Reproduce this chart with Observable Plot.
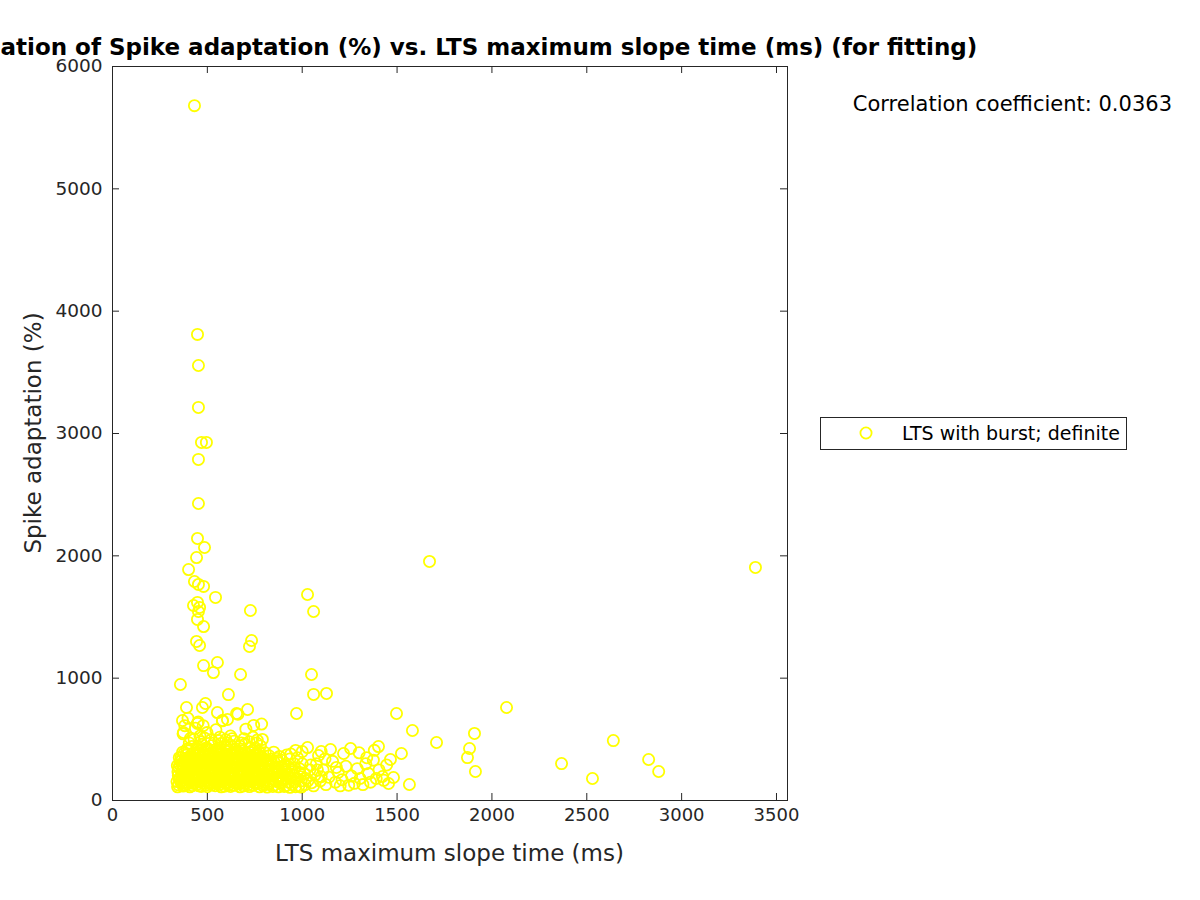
<!DOCTYPE html>
<html><head><meta charset="utf-8">
<script src="https://cdn.jsdelivr.net/npm/d3@7"></script>
<script src="https://cdn.jsdelivr.net/npm/@observablehq/plot@0.6"></script>
<style>body{margin:0;background:#fff} #chart svg{font-family:"DejaVu Sans",sans-serif}</style>
</head><body><div id="chart"></div>
<script>
const titleText = "Correlation of Spike adaptation (%) vs. LTS maximum slope time (ms) (for fitting)";
const xLabel = "LTS maximum slope time (ms)";
const yLabel = "Spike adaptation (%)";
const corrText = "Correlation coefficient: 0.0363";
const seriesName = "LTS with burst; definite";
const xTicks = [0, 500, 1000, 1500, 2000, 2500, 3000, 3500];
const yTicks = [0, 1000, 2000, 3000, 4000, 5000, 6000];

// [LTS maximum slope time (ms), Spike adaptation (%)]
const outlierPoints = [
[432,5680],[448,3810],[453,3556],[453,3213],[469,2927],[495,2927],[453,2788],[453,2428],[448,2142],[485,2068],
[443,1986],[401,1888],[432,1790],[453,1766],[480,1750],[427,1594],[448,1619],[459,1578],[453,1545],[543,1660],
[448,1480],[480,1422],[443,1300],[459,1267],[727,1553],[733,1308],[722,1259],[480,1103],[553,1128],[532,1046],
[675,1030],[358,948],[611,866],[490,793],[474,760],[553,719],[712,744],[1028,1684],[1060,1545],[1049,1030],
[1060,867],[1128,875],[1671,1954],[3389,1905],[970,711],[1497,711],[1581,572],[1708,474],[1908,548],[2077,760],
[2640,490],[1882,425],[1871,351],[1913,237],[2367,302],[2530,180],[2826,335],[2879,237]
];
const fringePoints = [
[372,545],[381,612],[398,672],[411,508],[437,590],[452,641],[461,527],[478,612],[498,555],[521,498],
[545,578],[566,518],[579,651],[597,497],[622,527],[641,485],[661,706],[693,505],[744,614],[763,493],
[786,625],[790,499],[740,517],[703,583],[580,654],[606,662],[654,711],[448,630],[390,760],[369,654],
[374,556],[1028,433],[965,409],[1086,368],[1149,417],[1218,384],[1255,425],[1402,441],[1380,410],[1465,335],
[1523,384],[1565,131],[1455,139],[1481,188],[1423,196],
[405,470],[430,500],[465,480],[485,510],[535,470],[560,490],[605,470],[630,505],[680,470],[720,480],[760,470]
];
const clusterPoints = [
[348,128],[372,118],[395,135],[421,122],[447,131],[468,115],[493,127],[517,139],[541,121],[566,133],[590,117],[614,129],[641,124],[667,136],[690,119],[716,130],[742,125],[768,138],[793,121],[820,133],[851,126],[884,140],[915,122],[948,131],[982,118],
[352,176],[379,188],[401,169],[427,183],[452,174],[476,191],[502,168],[528,185],[553,177],[577,192],[603,171],[629,186],[654,179],[679,166],[705,189],[731,174],[757,183],[782,170],[808,187],[838,176],[869,192],[902,168],[936,185],[971,179],
[345,236],[368,248],[391,229],[416,244],[441,233],[463,251],[489,238],[512,226],[537,247],[561,235],[586,252],[611,231],[636,244],[660,229],[686,249],[711,236],[737,242],[762,227],[788,251],[815,238],[846,224],[878,246],[911,233],[944,251],[988,229],
[355,294],[381,308],[406,289],[432,303],[457,297],[481,312],[506,286],[531,301],[556,295],[581,309],[606,291],[631,305],[656,298],[682,287],[707,311],[733,296],[758,305],[784,290],[812,302],[842,293],[874,309],[905,288],[957,301],
[362,352],[388,371],[413,358],[437,376],[462,349],[486,365],[511,380],[536,356],[560,372],[585,348],[610,368],[635,383],[659,355],[684,374],[709,349],[734,367],[760,382],[786,351],[825,366],[866,344],[918,372],
[392,418],[418,441],[446,425],[471,459],[497,431],[522,447],[547,418],[572,466],[597,437],[622,452],[648,421],[673,444],[699,462],[725,428],[752,419],[780,446],
[360,150],[386,205],[410,262],[434,145],[459,210],[484,268],[508,152],[533,212],[558,265],[583,155],[608,208],[633,270],[658,148],[683,215],[708,263],[733,158],[758,206],[783,272],[800,152],[830,210],[860,262],[893,155],[925,212],[960,265],[995,160],
[364,325],[392,335],[425,330],[455,402],[490,398],[520,340],[550,405],[575,330],[600,400],[628,335],[655,398],[690,335],[720,395],[748,338],[772,400],[800,340],[850,395],[890,330],[935,340],[1000,300],[1020,180],[1040,250],[1015,130],
[850,320],[880,360],[910,290],[940,380],[975,350],[1000,400],
[340,155],[363,162],[387,148],[412,158],[438,164],[461,151],[486,159],[510,146],[535,163],[559,152],[584,166],[607,149],[632,160],[657,171],[681,144],[706,157],[730,165],[755,150],[779,161],[806,169],[832,147],[862,158],[895,172],[928,150],
[347,205],[370,212],[396,198],[419,217],[444,203],[469,219],[493,196],[518,209],[542,221],[567,201],[592,214],[617,199],[641,218],[666,204],[692,211],[717,198],[743,220],[768,207],[794,215],[824,198],[855,214],[887,203],[920,219],[953,207],
[350,268],[374,279],[399,262],[423,275],[448,283],[473,266],[497,278],[522,263],[546,281],[571,270],[596,262],[621,284],[645,267],[670,279],[695,270],[720,283],[745,264],[770,280],[797,268],[828,281],[859,272],[890,265],[925,279],
[358,321],[383,342],[408,327],[433,339],[458,322],[483,338],[508,325],[533,344],[557,320],[582,341],[607,326],[632,347],[657,328],[681,318],[706,336],[731,323],[756,345],[781,329],[806,320],[836,337],[868,324],
[370,395],[400,405],[430,390],[465,412],[500,420],[530,390],[562,412],[590,380],[615,410],[645,385],[678,405],[712,378],[740,410],[770,372],[805,390],
[343,112],[366,140],[383,125],[408,112],[430,138],[456,120],[479,142],[500,113],[525,128],[548,143],[573,112],[597,138],[622,115],[646,141],[672,112],[697,139],[722,114],[749,141],[775,112],[798,136],
[357,190],[380,225],[404,185],[428,225],[451,188],[474,232],[497,185],[522,232],[546,190],[571,227],[595,188],[620,230],[645,192],[670,240],[694,180],[719,222],[744,190],[770,240],[792,185],
[342,285],[367,300],[391,282],[415,318],[440,290],[465,330],[490,290],[515,318],[540,280],[565,320],[590,284],[615,318],[640,288],[665,320],[690,300],[715,318],[740,285],[765,318],[790,305],
[352,350],[378,385],[402,355],[427,385],[452,368],[476,390],[501,355],[526,370],[551,352],[576,390],[600,360],[625,372],[650,350],[675,388],[700,360],[725,350],[752,366],[778,385],
[815,110],[845,115],[875,112],[905,115],[935,108],[965,113],[995,110],[825,160],[872,170],[915,185],[958,150],[990,195],[820,255],[865,240],[905,250],[950,235],[985,260],[1010,220],[1030,160],[1045,290],[1060,120],[1080,250],[1100,195],
[1050,145],[1068,210],[1075,300],[1095,160],[1110,250],[1125,130],[1140,190],[1160,320],[1175,150],[1190,230],[1210,170],[1230,280],[1245,125],[1260,200],[1275,140],[1290,260],[1305,180],[1320,130],[1335,300],[1350,220],[1360,150],[1375,330],[1390,180],[1405,250],[1430,165],[1445,290],[1100,400],[1200,120],[1300,390],[1340,350],[1120,340],[1180,270]
];
const allPoints = [...clusterPoints, ...fringePoints, ...outlierPoints];

const axisColor = "#262626";
const FONT = "DejaVu Sans";
const chart = Plot.plot({
  width: 1200, height: 900,
  marginLeft: 112, marginRight: 413, marginTop: 66, marginBottom: 100,
  style: {fontFamily: FONT, fontSize: "18px", color: axisColor, background: "white", overflow: "visible"},
  x: {domain: [0, 3558], label: null},
  y: {domain: [0, 6000], label: null},
  marks: [
    Plot.dot(allPoints, {x: d => d[0], y: d => d[1], r: 5.6, stroke: "#ffff00", strokeWidth: 1.8, fill: "none"}),
    Plot.frame({stroke: axisColor, strokeWidth: 1}),
    Plot.tickX(xTicks, {x: d => d, insetTop: 727, stroke: axisColor}),
    Plot.tickX(xTicks, {x: d => d, insetBottom: 727, stroke: axisColor}),
    Plot.tickY(yTicks, {y: d => d, insetRight: 668, stroke: axisColor}),
    Plot.tickY(yTicks, {y: d => d, insetLeft: 668, stroke: axisColor}),
    Plot.axisX({ticks: xTicks, tickSize: 0, tickPadding: 8, fontSize: 18, tickFormat: d3.format("d"), label: null}),
    Plot.axisY({ticks: yTicks, tickSize: 0, tickPadding: 10, fontSize: 18.5, tickFormat: d3.format("d"), label: null})
  ]
});
document.getElementById("chart").appendChild(chart);

const svg = d3.select(chart);
function addText(x, y, txt, size, opts = {}) {
  const t = svg.append("text").attr("x", x).attr("y", y)
    .attr("text-anchor", opts.anchor || "start")
    .attr("font-family", FONT).attr("font-size", size)
    .attr("font-weight", opts.bold ? "bold" : "normal")
    .attr("fill", opts.fill || "#000").text(txt);
  if (opts.transform) t.attr("transform", opts.transform);
  return t;
}
addText(449.5, 55, titleText, 23, {anchor: "middle", bold: true});
addText(449.5, 861, xLabel, 23, {anchor: "middle", fill: axisColor});
addText(0, 0, yLabel, 23, {anchor: "middle", fill: axisColor, transform: "translate(41,433) rotate(-90)"});
addText(1172, 111, corrText, 21, {anchor: "end"});
svg.append("rect").attr("x", 820.5).attr("y", 417.5).attr("width", 306).attr("height", 32)
  .attr("fill", "white").attr("stroke", axisColor).attr("stroke-width", 1);
svg.append("circle").attr("cx", 866).attr("cy", 433).attr("r", 5.6).attr("fill", "none").attr("stroke", "#ffff00").attr("stroke-width", 1.8);
addText(902, 440, seriesName, 19);
</script></body></html>
